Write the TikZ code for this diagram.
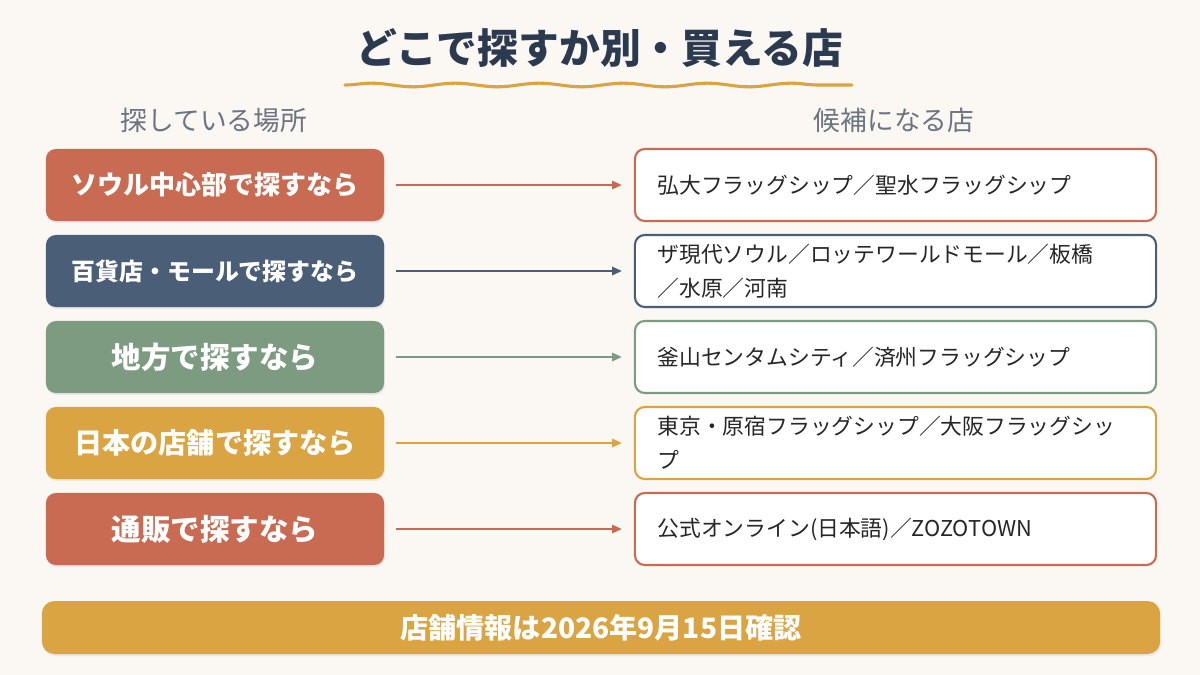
\documentclass[tikz,border=0pt]{standalone}
\usepackage{fontspec}
\setmainfont{Noto Sans CJK JP}
\usetikzlibrary{arrows.meta,shadows,decorations.pathmorphing}
\definecolor{bgcream}{HTML}{FBF7F3}
\definecolor{ink}{HTML}{2B3A4F}
\definecolor{rust}{HTML}{C96B52}
\definecolor{slate}{HTML}{4A5E77}
\definecolor{sage}{HTML}{7C9B80}
\definecolor{mustard}{HTML}{D9A441}
\definecolor{graytxt}{HTML}{6B7480}

\begin{document}
\begin{tikzpicture}[x=0.025cm,y=-0.025cm,
    place/.style={rounded corners=7pt,minimum width=8.45cm,minimum height=1.8cm,
      text=white,font=\bfseries\fontsize{20}{24}\selectfont,
      drop shadow={opacity=0.12,shadow xshift=0.6pt,shadow yshift=-1.5pt}},
    shop/.style={draw,line width=1.5pt,fill=white,rounded corners=7pt,
      minimum width=13.025cm,minimum height=1.8cm,text width=11.9cm,align=left,
      font=\fontsize{15.5}{24}\selectfont,text=black!85},
    link/.style={line width=1.3pt,-{Triangle[length=7pt,width=6pt]},
      shorten <=0.28cm,shorten >=0.3cm}]
  \fill[bgcream] (0,0) rectangle (1200,675);
  \useasboundingbox (0,0) rectangle (1200,675);

  % title
  \node[text=ink,font=\bfseries\fontsize{29}{34}\selectfont] (title) at (600,48) {どこで探すか別・買える店};
  \draw[mustard,line width=2.2pt,line cap=round,decorate,
    decoration={snake,amplitude=1.3pt,segment length=2.1cm}] (345,85) -- (852,85);

  \node[text=graytxt,font=\fontsize{19}{22}\selectfont] (hleft) at (214,120) {探している場所};
  \node[text=graytxt,font=\fontsize{19}{22}\selectfont] (hright) at (894,120) {候補になる店};

  % where you look
  \node[place,fill=rust,font=\bfseries\fontsize{18.5}{22}\selectfont] (L1) at (215,185) {ソウル中心部で探すなら};
  \node[place,fill=slate,font=\bfseries\fontsize{17}{22}\selectfont] (L2) at (215,271) {百貨店・モールで探すなら};
  \node[place,fill=sage,font=\bfseries\fontsize{21}{24}\selectfont] (L3) at (215,357) {地方で探すなら};
  \node[place,fill=mustard,font=\bfseries\fontsize{20}{24}\selectfont] (L4) at (215,443) {日本の店舗で探すなら};
  \node[place,fill=rust,font=\bfseries\fontsize{21}{24}\selectfont] (L5) at (215,529) {通販で探すなら};

  % shops
  \node[shop,draw=rust] (R1) at (895.5,185) {弘大フラッグシップ／聖水フラッグシップ};
  \node[shop,draw=slate] (R2) at (895.5,271) {ザ現代ソウル／ロッテワールドモール／板橋\\／水原／河南};
  \node[shop,draw=sage] (R3) at (895.5,357) {釜山センタムシティ／済州フラッグシップ};
  \node[shop,draw=mustard] (R4) at (895.5,443) {東京・原宿フラッグシップ／大阪フラッグシッ\\プ};
  \node[shop,draw=rust] (R5) at (895.5,529) {公式オンライン(日本語)／ZOZOTOWN};

  \draw[link,rust] (L1) -- (R1);
  \draw[link,slate] (L2) -- (R2);
  \draw[link,sage] (L3) -- (R3);
  \draw[link,mustard] (L4) -- (R4);
  \draw[link,rust] (L5) -- (R5);

  % note
  \node[fill=mustard,rounded corners=9pt,minimum width=27.95cm,minimum height=1.325cm,
    text=white,font=\bfseries\fontsize{20}{22}\selectfont,
    drop shadow={opacity=0.12,shadow xshift=0.6pt,shadow yshift=-1.5pt}] (note) at (601,627.5)
    {店舗情報は2026年9月15日確認};
\end{tikzpicture}
\end{document}
